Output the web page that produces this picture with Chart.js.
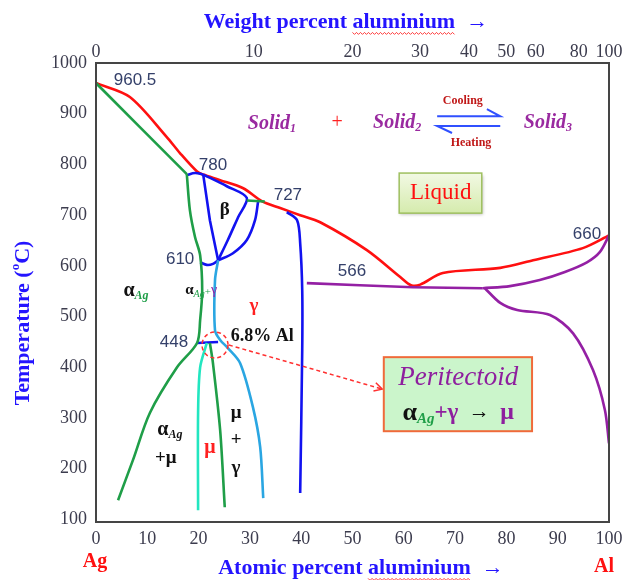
<!DOCTYPE html>
<html><head><meta charset="utf-8">
<script src="https://cdn.jsdelivr.net/npm/chart.js@4/dist/chart.umd.min.js"></script>
<style>html,body{margin:0;padding:0;background:#fff}#wrap{width:634px;height:580px;position:relative}</style>
</head><body><div id="wrap"><canvas id="c"></canvas></div>
<script>
// ---- tick labels ----
const atomicTicks = [0,10,20,30,40,50,60,70,80,90,100];
const weightTicks = [0,10,20,30,40,50,60,80,100];
const tempTicks = [100,200,300,400,500,600,700,800,900,1000];

// ---- phase boundaries (atomic % Al, temperature °C) ----
const liquidusX = [0,6.6,13.8,16.4,19.7,20.9,24.2,28.7,32.4,35.9,39.8,43.7,52.8,59.3,61.4,63.2,67.6,78.8,85.2,94.9,100];
const liquidusT = [960.5,933,854,822,786,780,769,753,727,714,700,686,631,578,562,563,586,596,611,635,660];

const solidusAgX = [0,8.7,17.7];
const solidusAgT = [960.5,872,781];

const solvusAgX = [17.7,18.3,19.3,20.3,20.7,20.3,19.7,15.8,10.5,7.2,4.3];
const solvusAgT = [781,710,657,621,552,493,448,400,310,217,138];

const capBetaX = [17.7,19.3,20.9];
const capBetaT = [779,783,780];

const betaOuterX = [20.9,25.5,29.4,27.7,25.7,23.8];
const betaOuterT = [780,757,734,696,651,611];

const betaLeftX = [20.9,22.2,23.8];
const betaLeftT = [780,690,611];

const betaRightX = [31.6,31.0,29.4,26.7,23.8];
const betaRightT = [727,690,651,625,611];

const tie727X = [29.4,32.9];
const tie727T = [729,727];

const eut610X = [20.3,21.6,22.8,23.8];
const eut610T = [607,602,604,611];

const gammaX = [23.8,23.2,23.2,24.2,25.7,28.1,30.6,32.0,32.6];
const gammaT = [611,572,473,454,438,408,321,243,142];

const per448X = [19.7,23.8];
const per448T = [448,450];

const muLeftX = [21.6,20.3,19.9,19.9];
const muLeftT = [448,400,310,118];

const muRightX = [22.2,22.8,24.2,25.1];
const muRightT = [448,408,276,124];

const gammaAlX = [37.2,39.2,39.8,40.2,40.2,39.8];
const gammaAlT = [706,690,645,552,434,152];

const eut566X = [41.1,61.8,75.4];
const eut566T = [566,558,556];

const solidusAlX = [75.4,80.7,86.5,91.4,95.7,98.2,100];
const solidusAlT = [556,560,572,588,607,627,660];

const solvusAlX = [75.8,78.8,82.1,88.5,93.0,96.9,99.2,100];
const solvusAlT = [556,527,513,503,467,394,316,250];

function wtToAt(w){ const ag=107.87, al=26.98; if(w<=0) return 0; if(w>=100) return 100;
  const a=w/al, b=(100-w)/ag; return 100*a/(a+b); }

function pts(xs, ts){ return xs.map((x,i)=>({x:x, y:ts[i]})); }
function ds(xs, ts, color, tension){ return {data:pts(xs,ts), borderColor:color, borderWidth:2.6, showLine:true, pointRadius:0, tension:tension, fill:false}; }

const RED='#ff1010', GREEN='#1f9e48', BLUE='#1212f0', CYAN='#2aa6e2', AQUA='#22e6c0', PURPLE='#9420a4';

const NUM = '17px "Liberation Sans"';
const NUMC = '#34406a';
const SB = (s)=> 'bold '+s+'px "Liberation Serif"';
const SBI = (s)=> 'bold italic '+s+'px "Liberation Serif"';
const SI = (s)=> 'italic '+s+'px "Liberation Serif"';
const SR = (s)=> s+'px "Liberation Serif"';

function drawRuns(ctx, cx, cy, runs){
  let W=0; const ws=[];
  runs.forEach(r=>{ ctx.font=r.f; const w=ctx.measureText(r.t).width; ws.push(w); W+=w; });
  let x=cx-W/2;
  ctx.textAlign='left'; ctx.textBaseline='middle';
  runs.forEach((r,i)=>{ ctx.font=r.f; ctx.fillStyle=r.c; ctx.fillText(r.t, x, cy+(r.dy||0));
    if(r.wavy){ ctx.save(); ctx.strokeStyle='#ff3a3a'; ctx.lineWidth=1; ctx.beginPath();
      const yy=cy+11; let k=0; for(let xx=x; xx<=x+ws[i]; xx+=2){ const yv=yy+((k%2)?1.4:-0.6); if(k===0) ctx.moveTo(xx,yv); else ctx.lineTo(xx,yv); k++; }
      ctx.stroke(); ctx.restore(); }
    x+=ws[i]; });
}

const annot = {
  id:'annot',
  afterDatasetsDraw(chart){
    const ctx=chart.ctx, sx=chart.scales.x, sy=chart.scales.y, a=chart.chartArea;
    const X=v=>sx.getPixelForValue(v), Y=v=>sy.getPixelForValue(v);
    ctx.save();
    // frame
    ctx.strokeStyle='#454545'; ctx.lineWidth=2; ctx.strokeRect(a.left, a.top, a.right-a.left, a.bottom-a.top);
    // numbers
    const nums=[['960.5',7.6,966],['780',22.8,799],['727',37.4,740],['610',16.4,613],['448',15.2,450],['566',49.9,590],['660',95.7,663]];
    nums.forEach(n=>drawRuns(ctx, X(n[1]), Y(n[2]), [{t:n[0], f:NUM, c:NUMC}]));
    // region labels
    drawRuns(ctx, X(32.4), Y(462), [{t:'6.8% Al', f:SB(18), c:'#111'}]);
    drawRuns(ctx, X(25.1), Y(710), [{t:'β', f:SB(19), c:'#111'}]);
    drawRuns(ctx, X(7.8), Y(550), [{t:'α', f:SB(20), c:'#111'},{t:'Ag', f:SBI(12), c:GREEN, dy:5}]);
    drawRuns(ctx, X(20.5), Y(552), [{t:'α', f:SB(15), c:'#111'},{t:'Ag', f:SI(10), c:GREEN, dy:4},{t:'+', f:SR(11), c:GREEN, dy:2},{t:'γ', f:SR(14), c:PURPLE}]);
    drawRuns(ctx, X(30.8), Y(521), [{t:'γ', f:SB(19), c:'#ff2020'}]);
    drawRuns(ctx, X(14.4), Y(276), [{t:'α', f:SB(20), c:'#111'},{t:'Ag', f:SBI(12), c:'#111', dy:5}]);
    drawRuns(ctx, X(13.6), Y(221), [{t:'+μ', f:SB(19), c:'#111'}]);
    drawRuns(ctx, X(22.2), Y(241), [{t:'μ', f:SB(20), c:'#ff2020'}]);
    drawRuns(ctx, X(27.3), Y(310), [{t:'μ', f:SB(19), c:'#111'}]);
    drawRuns(ctx, X(27.3), Y(256), [{t:'+', f:SB(19), c:'#111'}]);
    drawRuns(ctx, X(27.3), Y(201), [{t:'γ', f:SB(19), c:'#111'}]);
    // reaction
    const SP='#9a2aa0';
    drawRuns(ctx, X(34.3), Y(880), [{t:'Solid', f:SBI(20), c:SP},{t:'1', f:SBI(12), c:SP, dy:5}]);
    drawRuns(ctx, X(47), Y(882), [{t:'+', f:SR(20), c:'#ff2020'}]);
    drawRuns(ctx, X(58.7), Y(882), [{t:'Solid', f:SBI(20), c:SP},{t:'2', f:SBI(12), c:SP, dy:5}]);
    drawRuns(ctx, X(88.1), Y(882), [{t:'Solid', f:SBI(20), c:SP},{t:'3', f:SBI(12), c:SP, dy:5}]);
    drawRuns(ctx, X(71.5), Y(925), [{t:'Cooling', f:SB(12), c:'#c01818'}]);
    drawRuns(ctx, X(73.1), Y(842), [{t:'Heating', f:SB(12), c:'#c01818'}]);
    ctx.strokeStyle='#3050ff'; ctx.lineWidth=2;
    ctx.beginPath(); ctx.moveTo(X(66.5),Y(895)); ctx.lineTo(X(78.8),Y(895)); ctx.lineTo(X(76.2),Y(909)); ctx.stroke();
    ctx.beginPath(); ctx.moveTo(X(78.8),Y(876)); ctx.lineTo(X(66.5),Y(876)); ctx.lineTo(X(69.4),Y(862)); ctx.stroke();
    // Liquid box
    let bx=X(59.1), by=Y(783), bw=X(75.2)-bx, bh=Y(704)-by;
    ctx.save(); ctx.shadowColor='rgba(0,0,0,0.25)'; ctx.shadowBlur=3; ctx.shadowOffsetX=1; ctx.shadowOffsetY=2;
    let g=ctx.createLinearGradient(0,by,0,by+bh); g.addColorStop(0,'#f2f9e4'); g.addColorStop(1,'#d5ebad');
    ctx.fillStyle=g; ctx.fillRect(bx,by,bw,bh); ctx.restore();
    ctx.strokeStyle='#9fc060'; ctx.lineWidth=1.5; ctx.strokeRect(bx,by,bw,bh);
    drawRuns(ctx, X(67.2), Y(744), [{t:'Liquid', f:SR(23), c:'#ff1010'}]);
    // dashed circle + arrow
    ctx.strokeStyle='#ff3030'; ctx.lineWidth=1.5; ctx.setLineDash([4,3]);
    ctx.beginPath(); ctx.arc(X(23.2), Y(444), 13, 0, Math.PI*2); ctx.stroke();
    const x1=X(25.9), y1=Y(444), x2=X(55.8), y2=Y(357);
    ctx.beginPath(); ctx.moveTo(x1,y1); ctx.lineTo(x2,y2); ctx.stroke();
    ctx.setLineDash([]);
    const ang=Math.atan2(y2-y1,x2-x1);
    ctx.beginPath(); ctx.moveTo(x2-9*Math.cos(ang-0.5), y2-9*Math.sin(ang-0.5)); ctx.lineTo(x2,y2); ctx.lineTo(x2-9*Math.cos(ang+0.5), y2-9*Math.sin(ang+0.5)); ctx.stroke();
    // Peritectoid box
    bx=X(56.1); by=Y(420); bw=X(85)-bx; bh=Y(274)-by;
    ctx.fillStyle='#cbf5cb'; ctx.fillRect(bx,by,bw,bh);
    ctx.strokeStyle='#f06a3a'; ctx.lineWidth=2; ctx.strokeRect(bx,by,bw,bh);
    drawRuns(ctx, X(70.6), Y(379), [{t:'Peritectoid', f:SI(27), c:'#8e1f9e'}]);
    drawRuns(ctx, X(70.6), Y(310), [{t:'α', f:SB(26), c:'#111'},{t:'Ag', f:SBI(15), c:GREEN, dy:6},{t:'+γ', f:SB(23), c:'#8e1f9e'},{t:'  →  ', f:SB(21), c:'#111'},{t:'μ', f:SB(24), c:'#8e1f9e'}]);
    // axis titles
    const TB='#2414ff';
    drawRuns(ctx, 346, 22, [{t:'Weight percent ', f:SB(22), c:TB},{t:'aluminium', f:SB(22), c:TB, wavy:true},{t:'  →', f:SB(22), c:TB}]);
    drawRuns(ctx, 361, 568, [{t:'Atomic percent ', f:SB(22), c:TB},{t:'aluminium', f:SB(22), c:TB, wavy:true},{t:'  →', f:SB(22), c:TB}]);
    drawRuns(ctx, 95, 562, [{t:'Ag', f:SB(20), c:'#ff1010'}]);
    drawRuns(ctx, 604, 567, [{t:'Al', f:SB(20), c:'#ff1010'}]);
    ctx.save(); ctx.translate(23, 323); ctx.rotate(-Math.PI/2);
    drawRuns(ctx, 0, 0, [{t:'Temperature (', f:SB(22), c:TB},{t:'o', f:SB(13), c:TB, dy:-7},{t:'C)', f:SB(22), c:TB}]);
    ctx.restore();
    ctx.restore();
  }
};

const tickFont = {family:'"Liberation Serif"', size:18};
const tickColor = '#3c3c4e';

new Chart(document.getElementById('c'), {
  type:'scatter',
  data:{ datasets:[
    ds(solidusAgX, solidusAgT, GREEN, 0),
    ds(solvusAgX, solvusAgT, GREEN, 0.3),
    ds(tie727X, tie727T, GREEN, 0),
    ds(muRightX, muRightT, GREEN, 0.3),
    ds(muLeftX, muLeftT, AQUA, 0.3),
    ds(gammaX, gammaT, CYAN, 0.3),
    ds(capBetaX, capBetaT, BLUE, 0.4),
    ds(betaOuterX, betaOuterT, BLUE, 0.3),
    ds(betaLeftX, betaLeftT, BLUE, 0),
    ds(betaRightX, betaRightT, BLUE, 0.3),
    ds(eut610X, eut610T, BLUE, 0.3),
    ds(per448X, per448T, BLUE, 0),
    ds(gammaAlX, gammaAlT, BLUE, 0.3),
    ds(eut566X, eut566T, PURPLE, 0.2),
    ds(solidusAlX, solidusAlT, PURPLE, 0.3),
    ds(solvusAlX, solvusAlT, PURPLE, 0.3),
    ds(liquidusX, liquidusT, RED, 0.3)
  ]},
  options:{
    responsive:true, maintainAspectRatio:false, animation:false,
    layout:{padding:{left:0, right:25, top:0, bottom:0}},
    plugins:{legend:{display:false}, tooltip:{enabled:false}},
    scales:{
      x:{type:'linear', position:'bottom', min:0, max:100,
        grid:{display:false, drawTicks:false}, border:{display:false},
        afterBuildTicks:s=>{ s.ticks = atomicTicks.map(v=>({value:v})); },
        afterFit:s=>{ s.height=58; },
        ticks:{autoSkip:false, maxRotation:0, padding:6, font:tickFont, color:tickColor, callback:(v,i)=>String(atomicTicks[i])}},
      x2:{type:'linear', position:'top', min:0, max:100,
        grid:{display:false, drawTicks:false}, border:{display:false},
        afterBuildTicks:s=>{ s.ticks = weightTicks.map(w=>({value:wtToAt(w)})); },
        afterFit:s=>{ s.height=63; },
        ticks:{autoSkip:false, maxRotation:0, padding:0, font:tickFont, color:tickColor, callback:(v,i)=>String(weightTicks[i])}},
      y:{type:'linear', min:95, max:1000,
        grid:{display:false, drawTicks:false}, border:{display:false},
        afterBuildTicks:s=>{ s.ticks = tempTicks.map(v=>({value:v})); },
        afterFit:s=>{ s.width=96; },
        ticks:{autoSkip:false, padding:9, font:tickFont, color:tickColor, callback:(v,i)=>String(tempTicks[i])}}
    }
  },
  plugins:[annot]
});
</script></body></html>
